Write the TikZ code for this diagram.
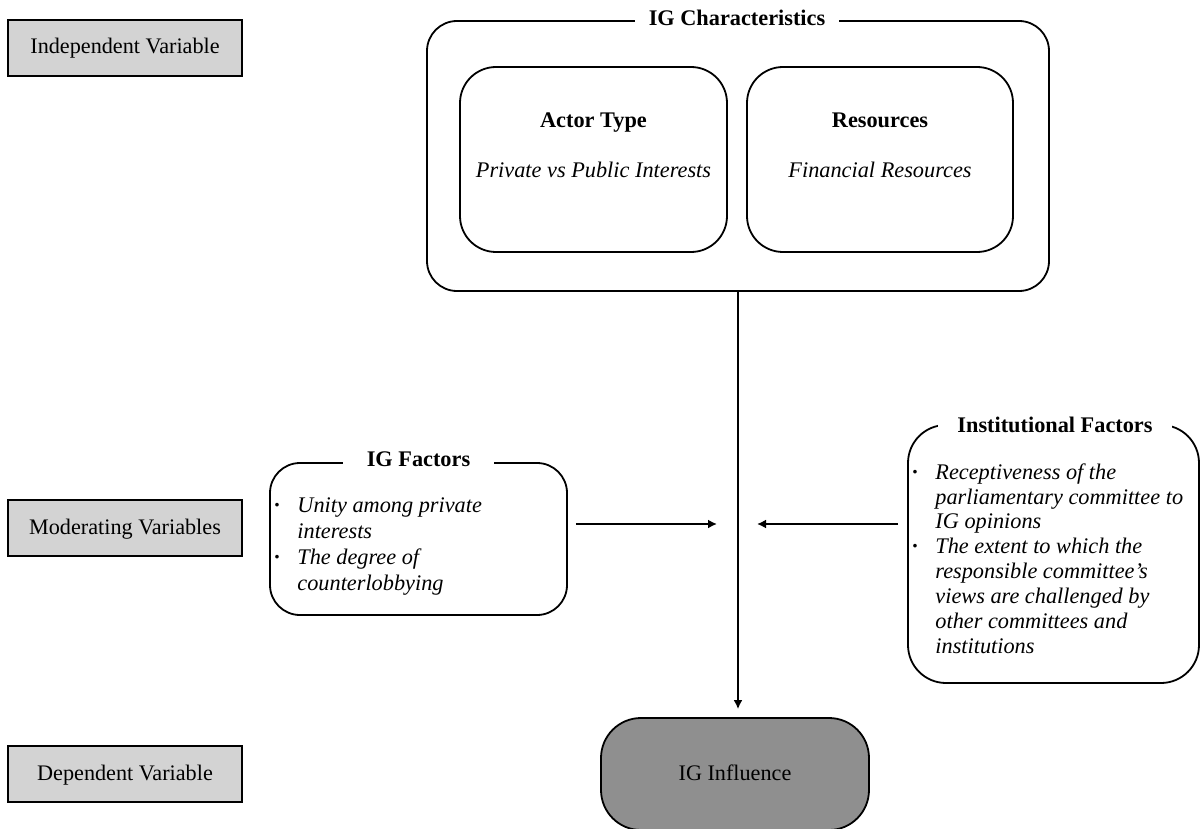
\documentclass[tikz,border=0pt]{standalone}
\usepackage{fontspec}
\setmainfont{Liberation Serif}
\usetikzlibrary{arrows.meta}

\definecolor{boxgray}{HTML}{D3D3D3}
\definecolor{outgray}{HTML}{8F8F8F}

\newcommand{\itemdot}{\makebox[12pt][l]{\upshape\bfseries\textperiodcentered}}

\tikzset{
  varbox/.style={draw, line width=0.9pt, fill=boxgray, minimum width=117pt, minimum height=28pt,
    text height=8pt, text depth=2pt, inner sep=0pt},
  groupbox/.style={draw, line width=0.9pt, inner sep=0pt},
  boxtitle/.style={fill=white, font=\fontsize{11.15}{12.6}\selectfont\bfseries, text height=8pt, text depth=2.5pt, inner ysep=2pt},
  boxtext/.style={font=\fontsize{11.15}{12.6}\selectfont\itshape},
  itemlist/.style={align=left, boxtext, inner sep=0pt, anchor=north west},
  flow/.style={line width=0.9pt, -{Latex[length=4.5pt, width=4.5pt]}}
}

\begin{document}
\begin{tikzpicture}[x=0.5pt, y=-0.5pt, font=\fontsize{11.1}{12.6}\selectfont]
\useasboundingbox (0,0) rectangle (1200,829);

% variable labels on the left
\node [varbox] (indep) at (125,48) {Independent Variable};
\node [varbox] (moder) at (125,528) {Moderating Variables};
\node [varbox] (dep) at (125,774) {Dependent Variable};

% independent variable: IG characteristics
\node [groupbox, rounded corners=15pt, minimum width=311pt, minimum height=135pt] (igchar) at (738,156) {};
\node [boxtitle, inner xsep=7pt] (igchartitle) at (737,20) {IG Characteristics};

\node [groupbox, rounded corners=18pt, minimum width=133.5pt, minimum height=92.5pt] (actor) at (593.5,159.5) {};
\node [anchor=base, boxtitle, fill=none] (actortitle) at (593.5,128) {Actor Type};
\node [anchor=base, boxtext] (actortext) at (593.5,177) {Private vs Public Interests};

\node [groupbox, rounded corners=18pt, minimum width=133pt, minimum height=92.5pt] (res) at (880,159.5) {};
\node [anchor=base, boxtitle, fill=none] (restitle) at (880,128) {Resources};
\node [anchor=base, boxtext] (restext) at (880,177) {Financial Resources};

% moderating variables
\node [groupbox, rounded corners=15pt, minimum width=148.5pt, minimum height=76pt] (igfac) at (418.5,539) {};
\node [boxtitle, inner xsep=11.7pt] (igfactitle) at (418.5,461) {IG Factors};
\node [itemlist, font=\fontsize{11.15}{13}\selectfont\itshape] (igfaclist) at (273,497) {%
  \itemdot Unity among private\\
  \hspace*{12pt}interests\\
  \itemdot The degree of\\
  \hspace*{12pt}counterlobbying};

\node [groupbox, rounded corners=19pt, minimum width=145.5pt, minimum height=129pt] (instfac) at (1053.5,554) {};
\node [boxtitle, inner xsep=9.5pt] (instfactitle) at (1055,427) {Institutional Factors};
\node [itemlist, font=\fontsize{11.15}{12.45}\selectfont\itshape] (instfaclist) at (911,463) {%
  \itemdot Receptiveness of the\\
  \hspace*{12pt}parliamentary committee to\\
  \hspace*{12pt}IG opinions\\
  \itemdot The extent to which the\\
  \hspace*{12pt}responsible committee’s\\
  \hspace*{12pt}views are challenged by\\
  \hspace*{12pt}other committees and\\
  \hspace*{12pt}institutions};

% dependent variable
\node [groupbox, fill=outgray, rounded corners=20pt, minimum width=134pt, minimum height=56pt,
  text height=8pt, text depth=2pt] (iginf) at (735,774) {IG Influence};

% connectors
\coordinate (hubw) at (717,524);
\coordinate (hube) at (757,524);
\draw [flow, shorten >=4pt] (igchar.south) -- (igchar.south |- iginf.north);
\draw [flow, shorten <=4pt] (igfac.east |- hubw) -- (hubw);
\draw [flow, shorten <=4.5pt] (instfac.west |- hube) -- (hube);

\end{tikzpicture}
\end{document}
